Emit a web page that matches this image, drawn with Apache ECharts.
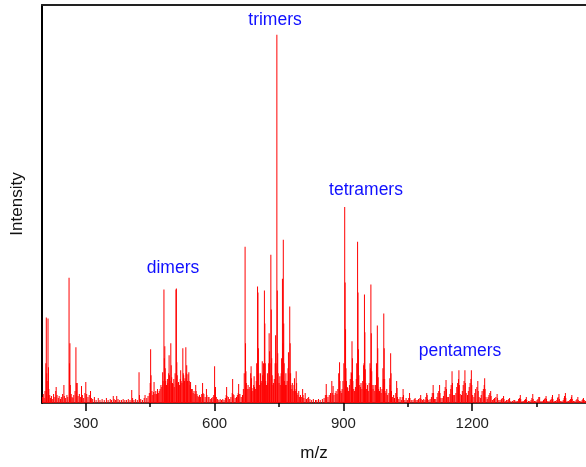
<!DOCTYPE html>
<html>
<head>
<meta charset="utf-8">
<script src="https://cdn.jsdelivr.net/npm/echarts@6/dist/echarts.min.js"></script>
<style>
  html, body { margin: 0; padding: 0; background: #fff; }
  #chart { width: 586px; height: 467px; }
</style>
</head>
<body>
<div id="chart"></div>
<script>
// stick spectrum, [m/z, intensity]
const lowMassPeaks = [
  [199,6],[201,9],[203,5],[205,12],[207,40],[208,86],[209,30],[210,22],[212,85],[213,36],[214,14],[216,8],[218,5],
  [220,7],[223,4],[225,9],[228,6],[230,12],[231,16],[233,8],[236,5],[238,7],[241,4],[243,6],[246,9],[249,18],[250,7],
  [253,5],[256,8],[258,6],[261,126],[262,40],[263,60],[264,18],[266,9],[268,6],[270,5],[272,8],[275,12],[277,56],
  [278,20],[280,20],[282,7],[285,9],[288,6],[290,17],[292,8],[295,5],[298,10],[300,21],[302,9],[305,6],[308,8],
  [311,12],[313,5],[316,4],[320,6],[324,3],[329,5],[333,3],[338,4],[343,3],[348,5],[352,3],[357,4],[360,3],[364,7],
  [366,4],[369,3],[372,7],[375,4],[379,3],[383,3],[387,4],[391,3],[395,3],[399,4],[403,3],[407,13],[409,5],[412,3],
  [416,4],[420,3],[424,31],[425,8],[428,4],[432,3],[436,5],[438,8],[442,5],[445,7]
];
const dimerPeaks = [
  [448,10],[450,20],[451,54],[452,28],[454,12],[456,8],[458,11],[459,21],[461,9],[463,12],[465,9],[467,14],[469,10],
  [471,12],[473,14],[475,18],[477,16],[479,31],[480,22],[482,114],[483,45],[484,57],[485,35],[486,22],[488,18],
  [490,24],[491,20],[493,30],[494,48],[495,28],[496,22],[498,60],[499,38],[500,26],[502,20],[503,19],[505,24],
  [506,16],[508,30],[510,114],[511,115],[512,41],[513,28],[515,20],[516,21],[518,18],[520,24],[521,33],[522,22],
  [524,20],[526,55],[527,30],[528,28],[530,22],[531,25],[533,56],[534,30],[535,38],[537,22],[538,29],[540,31],
  [541,22],[543,18],[544,21],[546,14],[548,14],[550,10],[552,12],[554,9],[556,18],[557,12],[559,9],[561,7],[563,6],
  [565,8],[567,6],[570,9],[572,20],[573,10],[575,9],[578,6],[581,14],[582,8],[585,6],[587,6],[590,4],[593,5],
  [596,6],[598,8],[600,37],[601,14],[602,16],[604,6],[607,4],[610,3],[613,4],[616,3],[619,4],[622,3],[625,5],
  [627,8],[628,16],[629,7],[632,6],[635,4],[638,6],[641,10],[642,24],[643,9],[645,8],[648,5],[651,6],[653,8],
  [655,10],[656,19],[657,9],[659,9],[662,6],[665,8]
];
const trimerPeaks = [
  [667,14],[669,30],[671,157],[672,60],[673,32],[674,20],[676,14],[678,18],[680,14],[682,16],[684,30],[685,37],
  [686,25],[687,15],[689,12],[691,18],[692,27],[693,16],[695,14],[697,22],[698,40],[700,117],[701,111],[702,55],
  [703,30],[705,18],[707,30],[708,20],[710,22],[711,42],[712,28],[714,40],[716,113],[717,80],[718,40],[719,22],
  [721,18],[723,30],[724,20],[726,40],[727,70],[728,52],[729,40],[731,149],[732,94],[733,45],[734,28],[736,18],
  [737,20],[739,24],[741,40],[742,68],[743,40],[745,370],[746,113],[747,50],[748,30],[750,20],[752,27],[753,18],
  [755,30],[756,45],[758,125],[759,60],[760,164],[761,80],[762,40],[763,22],[765,18],[766,30],[767,18],[769,22],
  [771,35],[772,51],[773,30],[775,97],[776,60],[777,30],[778,18],[780,14],[781,20],[783,12],[785,18],[786,25],
  [787,14],[788,12],[790,32],[791,20],[792,10],[794,8],[796,12],[798,6],[800,8],[802,6],[805,14],[806,8],[808,5],
  [811,10],[814,4],[817,5],[819,6],[822,4],[826,3],[830,4],[835,3],[838,3],[842,4],[846,3]
];
const tetramerPeaks = [
  [851,4],[855,5],[858,8],[860,19],[861,8],[864,6],[867,8],[870,10],[873,22],[874,10],[876,17],[878,8],[881,10],
  [883,12],[885,9],[887,14],[889,30],[891,41],[892,22],[894,12],[896,10],[897,14],[899,22],[901,40],[903,197],
  [904,121],[905,74],[906,35],[907,22],[909,16],[910,15],[912,12],[914,18],[916,24],[918,31],[919,30],[920,62],
  [921,45],[922,22],[924,14],[926,12],[928,16],[930,24],[931,40],[933,162],[934,111],[935,54],[936,28],[938,18],
  [940,16],[941,20],[943,14],[945,22],[947,38],[948,40],[949,109],[950,71],[951,34],[952,20],[954,14],[956,18],
  [958,12],[960,20],[962,40],[963,35],[964,119],[965,70],[966,32],[967,18],[969,14],[971,18],[973,12],[975,18],
  [977,40],[978,30],[979,78],[980,55],[981,26],[982,14],[984,12],[986,16],[988,10],[990,14],[992,35],[993,24],
  [994,90],[995,55],[996,24],[997,12],[999,10],[1001,14],[1003,8],[1006,10],[1008,25],[1009,18],[1010,50],
  [1011,30],[1012,12],[1014,6],[1017,8],[1019,5],[1022,10],[1024,22],[1025,15],[1026,6],[1029,4],[1032,6],
  [1035,3],[1037,6],[1039,14],[1040,8],[1043,3],[1046,5],[1049,3],[1052,5],[1054,10],[1055,5],[1058,3]
];
const pentamerPeaks = [
  [1062,3],[1065,4],[1067,5],[1069,3],[1072,3],[1075,4],[1078,5],[1080,8],[1081,4],[1084,3],[1087,4],[1090,3],
  [1092,6],[1094,10],[1095,8],[1096,4],[1099,3],[1102,4],[1105,6],[1107,10],[1109,18],[1110,10],[1112,4],[1115,4],
  [1118,6],[1120,10],[1122,12],[1124,18],[1125,10],[1127,5],[1130,5],[1133,7],[1135,12],[1137,16],[1139,23],
  [1140,14],[1142,6],[1145,6],[1148,9],[1150,14],[1151,18],[1153,32],[1154,20],[1156,8],[1159,8],[1162,10],
  [1164,16],[1166,20],[1168,24],[1169,33],[1170,18],[1172,9],[1175,8],[1177,12],[1179,18],[1181,22],[1183,33],
  [1184,20],[1186,10],[1189,8],[1191,12],[1193,16],[1195,20],[1197,24],[1198,33],[1199,18],[1201,8],[1204,6],
  [1206,10],[1208,14],[1211,16],[1213,22],[1214,12],[1216,6],[1219,5],[1221,8],[1223,12],[1226,14],[1228,18],
  [1229,25],[1230,14],[1232,6],[1235,4],[1237,6],[1239,8],[1241,10],[1243,12],[1244,7],[1247,3],[1250,4],
  [1252,5],[1255,6],[1258,9],[1259,5],[1262,3],[1265,3],[1268,4],[1270,5],[1273,7],[1274,4],[1277,2],[1280,3],
  [1283,3],[1285,4],[1287,5],[1290,2],[1294,2],[1297,3],[1299,3],[1302,2],[1305,2],[1308,4],[1310,5],[1312,8],
  [1313,4],[1316,2],[1319,2],[1322,3],[1324,4],[1326,6],[1327,3],[1331,2],[1334,2],[1337,3],[1339,5],[1341,9],
  [1342,4],[1345,2],[1348,2],[1351,3],[1353,4],[1355,6],[1357,6],[1360,2],[1363,2],[1366,3],[1368,4],[1370,5],
  [1372,7],[1373,4],[1376,2],[1379,2],[1382,3],[1384,4],[1386,6],[1387,8],[1388,4],[1391,2],[1394,2],[1397,3],
  [1399,5],[1400,6],[1402,9],[1403,4],[1406,2],[1409,2],[1412,3],[1414,5],[1415,7],[1417,10],[1418,5],[1421,2],
  [1424,2],[1427,3],[1429,4],[1431,6],[1432,8],[1433,4],[1436,2],[1439,2],[1442,3],[1444,4],[1446,6],[1447,3],
  [1450,2],[1453,2],[1456,3],[1458,4],[1459,5],[1461,3],[1464,2]
];
const majorTicks = [300, 600, 900, 1200];
const minorTicks = [450, 750, 1050, 1350];
const groupLabels = ["trimers", "tetramers", "dimers", "pentamers"];

const chart = echarts.init(document.getElementById("chart"));
const font = "Liberation Sans, Arial, sans-serif";
const mzMin = 198, mzMax = 1465;

// label anchors in px
const labelPos = [[275, 20], [366, 190], [173, 268], [460, 351]];

chart.setOption({
  animation: false,
  grid: { left: 42, right: 0, top: 5, bottom: 62 },
  xAxis: [
    {
      type: "value", position: "bottom", min: mzMin, max: mzMax,
      name: "m/z", nameLocation: "middle", nameGap: 42,
      nameTextStyle: { fontFamily: font, fontSize: 17, color: "#111" },
      axisLine: { lineStyle: { color: "#000", width: 1.5 } },
      axisTick: { customValues: majorTicks, length: 8, lineStyle: { color: "#000", width: 1.5 } },
      axisLabel: {
        customValues: majorTicks, margin: 13, fontFamily: font, fontSize: 15, color: "#222",
        formatter: (v) => String(v),
      },
      splitLine: { show: false },
    },
    {
      type: "value", position: "bottom", min: mzMin, max: mzMax,
      axisLine: { show: false },
      axisTick: { customValues: minorTicks, length: 4, lineStyle: { color: "#000", width: 1.5 } },
      axisLabel: { show: false },
      splitLine: { show: false },
    },
    {
      type: "value", position: "top", min: mzMin, max: mzMax,
      axisLine: { show: true, lineStyle: { color: "#222", width: 2 } },
      axisTick: { show: false }, axisLabel: { show: false }, splitLine: { show: false },
    },
  ],
  yAxis: {
    type: "value", min: 0, max: 400,
    name: "Intensity", nameLocation: "middle", nameGap: 16,
    nameTextStyle: { fontFamily: font, fontSize: 17, color: "#111" },
    axisLine: { show: true, lineStyle: { color: "#000", width: 2 } },
    axisTick: { show: false }, axisLabel: { show: false }, splitLine: { show: false },
  },
  graphic: groupLabels.map((t, i) => ({
    type: "text",
    style: {
      text: t, x: labelPos[i][0], y: labelPos[i][1],
      textAlign: "center", textVerticalAlign: "middle",
      font: "17.5px " + font, fill: "#1010ff",
    },
  })),
  series: [
    {
      type: "bar",
      xAxisIndex: 0,
      barWidth: 1,
      itemStyle: { color: "#ff0000" },
      data: [].concat(lowMassPeaks, dimerPeaks, trimerPeaks, tetramerPeaks, pentamerPeaks),
    },
  ],
});
</script>
</body>
</html>
